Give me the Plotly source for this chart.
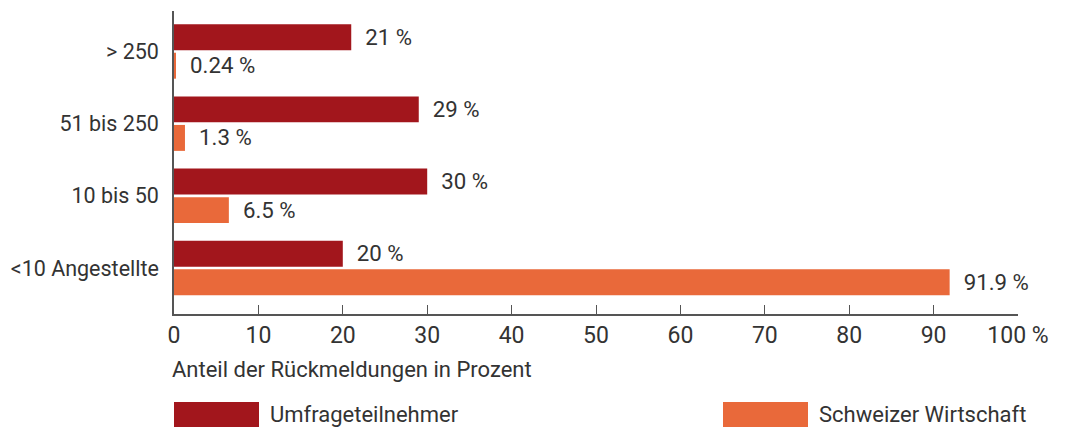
import plotly.graph_objects as go

categories = ["<10 Angestellte", "10 bis 50", "51 bis 250", "> 250"]
umfrage = [20, 30, 29, 21]
wirtschaft = [91.9, 6.5, 1.3, 0.24]
x_ticks = [0, 10, 20, 30, 40, 50, 60, 70, 80, 90, 100]
x_ticktext = ["0", "10", "20", "30", "40", "50", "60", "70", "80", "90", "100 %"]

RED = "#A2161C"
ORANGE = "#E9693A"
TXT = "#333333"
FONT = "Roboto"

# the page body adds an 8 px margin, so the figure is laid out 8 px smaller
OFF = 8
FIG_W, FIG_H = 1067 - OFF, 428 - OFF
L, R, T, B = 174 - OFF, 49, 11 - OFF, 114


def labels(vals):
    return ["\u00a0\u00a0" + f"{v:g} %" for v in vals]


fig = go.Figure()
# first trace sits lower within each group
fig.add_trace(go.Bar(
    y=categories, x=wirtschaft, orientation="h", name="Schweizer Wirtschaft",
    marker=dict(color=ORANGE, line=dict(width=0)),
    text=labels(wirtschaft), textposition="outside", cliponaxis=False,
    textfont=dict(size=24, color=TXT, family=FONT),
))
fig.add_trace(go.Bar(
    y=categories, x=umfrage, orientation="h", name="Umfrageteilnehmer",
    marker=dict(color=RED, line=dict(width=0)),
    text=labels(umfrage), textposition="outside", cliponaxis=False,
    textfont=dict(size=24, color=TXT, family=FONT),
))

fig.update_layout(
    width=FIG_W, height=FIG_H,
    margin=dict(l=L, r=R, t=T, b=B, autoexpand=False),
    barmode="group", bargap=0.21, bargroupgap=0.09,
    plot_bgcolor="white", paper_bgcolor="white",
    showlegend=False,
    font=dict(family=FONT, size=22, color=TXT),
)
fig.update_xaxes(
    range=[0, 100], tickvals=x_ticks, ticktext=x_ticktext, automargin=False,
    showgrid=False, zeroline=False,
    showline=True, linecolor="#555555", linewidth=1.5,
    ticks="inside", ticklen=9, tickcolor="#555555", tickwidth=1.2,
    tickfont=dict(size=23, color=TXT),
)
fig.update_yaxes(
    range=[-0.636, 3.56], automargin=False, showgrid=False, zeroline=False,
    showline=True, linecolor="#555555", linewidth=1.5,
    ticks="", ticklabelstandoff=9,
    tickfont=dict(size=21.5, color=TXT),
)

W, H = FIG_W - L - R, FIG_H - T - B


def px_x(p):
    # p in reference-page pixels
    return (p - OFF - L) / W


def px_y(p):
    return (FIG_H - B - (p - OFF)) / H


fig.add_annotation(
    x=px_x(170), y=px_y(369), xref="paper", yref="paper", text="Anteil der Rückmeldungen in Prozent",
    showarrow=False, xanchor="left", yanchor="middle", font=dict(size=22, color=TXT),
)

legend_items = [("Umfrageteilnehmer", RED, 174), ("Schweizer Wirtschaft", ORANGE, 723)]
for name, col, x0 in legend_items:
    fig.add_shape(
        type="rect", xref="paper", yref="paper",
        x0=px_x(x0), x1=px_x(x0 + 85), y0=px_y(402), y1=px_y(427),
        fillcolor=col, line=dict(width=0),
    )
    fig.add_annotation(
        x=px_x(x0 + 94), y=px_y(414), xref="paper", yref="paper", text=name,
        showarrow=False, xanchor="left", yanchor="middle", font=dict(size=22, color=TXT),
    )

fig.write_html("out.html")
